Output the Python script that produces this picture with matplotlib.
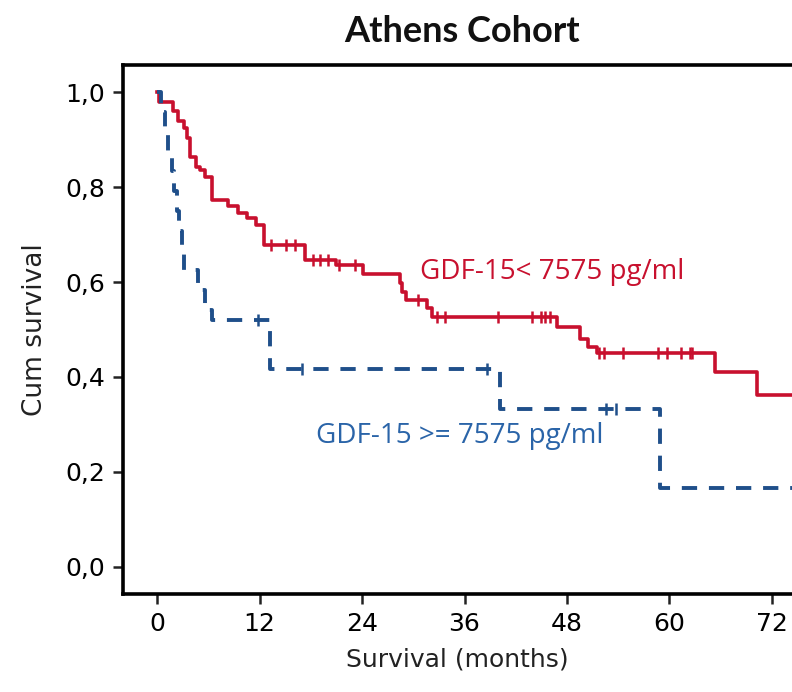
"""Kaplan-Meier survival by GDF-15 level, Athens cohort."""

import numpy as np
import matplotlib

matplotlib.use("Agg")
import matplotlib.pyplot as plt

# low GDF-15 group (red): step times in months and survival after each step
low_times = [0, 0.2, 1.9, 2.5, 3.1, 3.5, 3.9, 4.5, 5.0, 5.6, 6.4, 8.3, 9.5, 10.5, 11.6, 12.5,
             17.3, 21.0, 24.1, 28.5, 28.7, 29.2, 31.6, 32.2, 46.8, 49.5, 50.5, 51.5, 65.3, 70.2]
low_surv = [1.0, 0.98, 0.96, 0.94, 0.924, 0.903, 0.864, 0.843, 0.836, 0.822, 0.773, 0.76, 0.745,
            0.735, 0.72, 0.678, 0.646, 0.635, 0.617, 0.597, 0.58, 0.562, 0.545, 0.527, 0.506,
            0.48, 0.464, 0.451, 0.411, 0.362]
low_censor = [13.3, 15.1, 16.1, 18.3, 19.1, 20.0, 21.3, 23.2, 30.6, 32.8, 33.7, 39.9, 43.9,
              44.9, 45.4, 46.0, 51.8, 52.3, 54.6, 58.7, 59.7, 61.4, 62.4, 62.7]

# high GDF-15 group (blue)
high_times = [0, 0.4, 0.9, 1.3, 1.7, 2.0, 2.3, 2.6, 2.9, 3.2, 4.8, 5.6, 6.4, 13.2, 40.2, 58.9]
high_surv = [1.0, 0.958, 0.917, 0.875, 0.833, 0.792, 0.75, 0.708, 0.667, 0.625, 0.583, 0.542,
             0.521, 0.417, 0.333, 0.167]
high_censor = [11.8, 17.0, 38.6, 52.6, 53.8]

x_ticks = [0, 12, 24, 36, 48, 60, 72]
y_ticks = [0.0, 0.2, 0.4, 0.6, 0.8, 1.0]
y_labels = ["0,0", "0,2", "0,4", "0,6", "0,8", "1,0"]

RED = "#c8102e"
BLUE = "#1f4f8a"
X_END = 80

plt.rcParams["font.family"] = ["DejaVu Sans"]
plt.rcParams["lines.scale_dashes"] = False

fig = plt.figure(figsize=(7.92, 6.92), dpi=100)
ax = fig.add_axes([123 / 792, 1 - 594 / 692, 1 - 123 / 792, (594 - 65) / 692])


def _surv_at(times, surv, t):
    idx = np.searchsorted(times, t, side="right") - 1
    return np.asarray(surv)[idx]


for times, surv, cens, color, ls, lw in [
    (low_times, low_surv, low_censor, RED, "-", 2.6),
    (high_times, high_surv, high_censor, BLUE, "--", 2.8),
]:
    t = list(times) + [X_END]
    s = list(surv) + [surv[-1]]
    line, = ax.step(t, s, where="post", color=color, lw=lw, linestyle=ls)
    if ls == "--":
        line.set_dashes((11, 8.5))
    ax.plot(cens, _surv_at(times, surv, cens), linestyle="none", marker="|",
            markersize=9, markeredgewidth=1.8, color=color)

ax.text(30.8, 0.622, "GDF-15< 7575 pg/ml", color=RED, fontsize=20, va="center",
        family=["Open Sans", "DejaVu Sans"])
ax.text(18.6, 0.276, "GDF-15 >= 7575 pg/ml", color="#2a64a8", fontsize=20, va="center",
        family=["Open Sans", "DejaVu Sans"])

ax.set_xlim(-4, (792 - 157) / 8.54)
ax.set_ylim(-0.057, 1.057)
ax.set_xticks(x_ticks)
ax.set_yticks(y_ticks)
ax.set_yticklabels(y_labels)
ax.tick_params(labelsize=18, length=7, width=1.8, direction="out", color="#222222", pad=6)
for side in ("left", "top", "bottom"):
    ax.spines[side].set_linewidth(2.6)
ax.spines["right"].set_visible(False)

ax.set_xlabel("Survival (months)", fontsize=18, color="#222222", labelpad=8)
ax.set_ylabel("Cum survival", fontsize=19, color="#222222", labelpad=12)
fig.text(462 / 792, 1 - 32 / 692, "Athens Cohort", ha="center", va="center",
         fontsize=26, fontweight="bold", family=["Lato", "DejaVu Sans"], color="#111111")

fig.savefig("out.png", dpi=100)
